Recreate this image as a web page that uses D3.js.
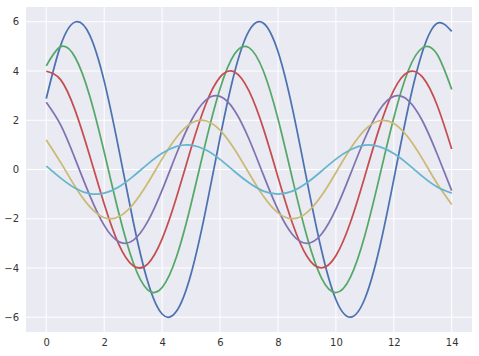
<!DOCTYPE html>
<html>
<head>
    <meta charset="utf-8">
    <title>Sine waves</title>
    <script src="https://cdn.jsdelivr.net/npm/d3@7"></script>
    <style>
        body { margin: 0; background: #fff; }
    </style>
</head>
<body>
    <script type="text/javascript">
        // x positions sampled every 0.5 from 0 to 14
        var xs = [0, 0.5, 1, 1.5, 2, 2.5, 3, 3.5, 4, 4.5, 5, 5.5, 6, 6.5, 7, 7.5, 8, 8.5, 9, 9.5, 10, 10.5, 11, 11.5, 12, 12.5, 13, 13.5, 14];

        // one array per wave
        var wave1 = [2.88, 5.05, 5.99, 5.46, 3.59, 0.85, -2.10, -4.54, -5.87, -5.75, -4.23, -1.68, 1.29, 3.94, 5.63, 5.94, 4.79, 2.47, -0.45, -3.26, -5.28, -6.00, -5.25, -3.22, -0.40, 2.52, 4.82, 5.94, 5.61];
        var wave2 = [4.21, 4.99, 4.55, 2.99, 0.71, -1.75, -3.78, -4.89, -4.79, -3.53, -1.40, 1.08, 3.28, 4.69, 4.95, 3.99, 2.06, -0.38, -2.72, -4.40, -5.00, -4.38, -2.68, -0.33, 2.10, 4.02, 4.95, 4.67, 3.25];
        var wave3 = [3.99, 3.64, 2.39, 0.56, -1.40, -3.03, -3.91, -3.84, -2.82, -1.12, 0.86, 2.63, 3.75, 3.96, 3.19, 1.65, -0.30, -2.18, -3.52, -4.00, -3.50, -2.15, -0.27, 1.68, 3.22, 3.96, 3.74, 2.60, 0.83];
        var wave4 = [2.73, 1.80, 0.42, -1.05, -2.27, -2.93, -2.88, -2.12, -0.84, 0.65, 1.97, 2.81, 2.97, 2.40, 1.24, -0.23, -1.63, -2.64, -3.00, -2.63, -1.61, -0.20, 1.26, 2.41, 2.97, 2.80, 1.95, 0.62, -0.86];
        var wave5 = [1.20, 0.28, -0.70, -1.51, -1.96, -1.92, -1.41, -0.56, 0.43, 1.31, 1.88, 1.98, 1.60, 0.82, -0.15, -1.09, -1.76, -2.00, -1.75, -1.07, -0.13, 0.84, 1.61, 1.98, 1.87, 1.30, 0.41, -0.58, -1.42];
        var wave6 = [0.14, -0.35, -0.76, -0.98, -0.96, -0.71, -0.28, 0.22, 0.66, 0.94, 0.99, 0.80, 0.41, -0.08, -0.54, -0.88, -1.00, -0.88, -0.54, -0.07, 0.42, 0.80, 0.99, 0.93, 0.65, 0.21, -0.29, -0.71, -0.96];

        var waves = [wave1, wave2, wave3, wave4, wave5, wave6];
        var colors = ["#4C72B0", "#55A868", "#C44E52", "#8172B2", "#CCB974", "#64B5CD"];

        var xTicks = [0, 2, 4, 6, 8, 10, 12, 14];
        var yTicks = [-6, -4, -2, 0, 2, 4, 6];

        var w = 479;
        var h = 356;
        //plot box edges ("top" is taken by window.top, so prefix them)
        var boxL = 26, boxR = 472, boxT = 7, boxB = 332;

        var x = d3.scaleLinear().domain([-0.7, 14.7]).range([boxL, boxR]);
        var y = d3.scaleLinear().domain([-6.6, 6.6]).range([boxB, boxT]);

        var svg = d3.select("body")
            .append("svg")
            .attr("width", w)
            .attr("height", h)
            .style("font-family", "'DejaVu Sans', sans-serif");

        //grey plot background
        svg.append("rect")
            .attr("x", boxL)
            .attr("y", boxT)
            .attr("width", boxR - boxL)
            .attr("height", boxB - boxT)
            .attr("fill", "#EAEAF2");

        svg.append("clipPath")
            .attr("id", "plotclip")
            .append("rect")
            .attr("x", boxL)
            .attr("y", boxT)
            .attr("width", boxR - boxL)
            .attr("height", boxB - boxT);

        //white grid lines
        svg.selectAll("line.gx")
            .data(xTicks)
            .enter()
            .append("line")
            .attr("class", "gx")
            .attr("x1", function(d){ return x(d); })
            .attr("x2", function(d){ return x(d); })
            .attr("y1", boxT)
            .attr("y2", boxB)
            .attr("stroke", "#fff")
            .attr("stroke-width", 1);

        svg.selectAll("line.gy")
            .data(yTicks)
            .enter()
            .append("line")
            .attr("class", "gy")
            .attr("x1", boxL)
            .attr("x2", boxR)
            .attr("y1", function(d){ return y(d); })
            .attr("y2", function(d){ return y(d); })
            .attr("stroke", "#fff")
            .attr("stroke-width", 1);

        //tick labels via axes, with the domain line and tick marks hidden
        var xAxis = svg.append("g")
            .attr("transform", "translate(0," + boxB + ")")
            .call(d3.axisBottom(x).tickValues(xTicks).tickSize(0).tickPadding(7));
        var yAxis = svg.append("g")
            .attr("transform", "translate(" + boxL + ",0)")
            .call(d3.axisLeft(y).tickValues(yTicks).tickSize(0).tickPadding(7)
                .tickFormat(function(d){ return d < 0 ? "\u2212" + Math.abs(d) : d; }));
        [xAxis, yAxis].forEach(function(a){
            a.select(".domain").remove();
            a.selectAll("text")
                .attr("font-size", "10px")
                .attr("font-family", "'DejaVu Sans', sans-serif")
                .attr("fill", "#333");
        });

        //the six waves
        var line = d3.line()
            .x(function(d, i){ return x(xs[i]); })
            .y(function(d){ return y(d); })
            .curve(d3.curveNatural);

        svg.append("g")
            .attr("clip-path", "url(#plotclip)")
            .selectAll("path")
            .data(waves)
            .enter()
            .append("path")
            .attr("d", line)
            .attr("fill", "none")
            .attr("stroke", function(d, i){ return colors[i]; })
            .attr("stroke-width", 1.75);
    </script>
</body>
</html>
